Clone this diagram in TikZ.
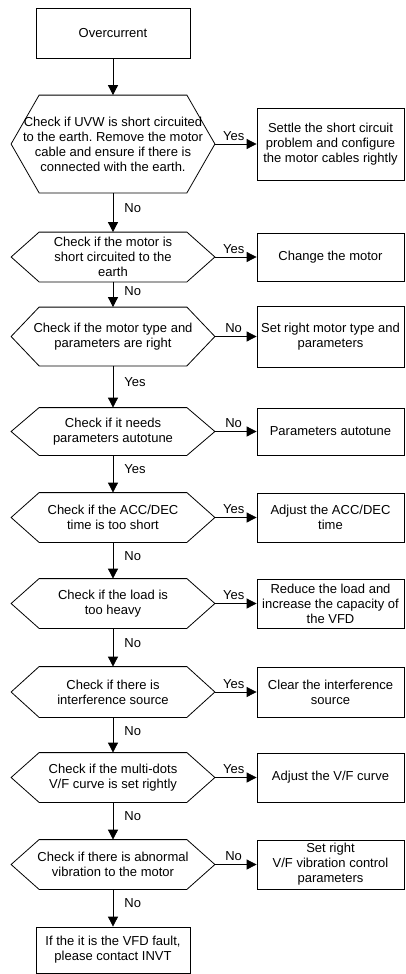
\documentclass[tikz,border=0pt]{standalone}
\usepackage{fontspec}
\setmainfont{Liberation Sans}
\usetikzlibrary{arrows.meta}
\frenchspacing

\begin{document}
\begin{tikzpicture}[x=1pt, y=-1pt, line width=0.8pt,
    font=\fontsize{13}{15}\selectfont,
    box/.style={draw, minimum width=154, inner sep=0pt, align=center},
    act/.style={draw, minimum width=147, inner sep=0pt, align=center},
    decision/.style={minimum width=203, inner sep=0pt, align=center},
    arrow/.style={-{Triangle[length=10pt,width=10pt]}},
    lbl/.style={inner sep=3pt}]
    \useasboundingbox (0,0) rectangle (406,974);

    % main column
    \node[box, minimum height=50] (start) at (113,33) {Overcurrent};
    \node[decision, minimum height=97] (q1) at (113,144) {Check if UVW is short circuited\\to the earth. Remove the motor\\cable and ensure if there is\\connected with the earth.};
    \node[decision, minimum height=49] (q2) at (113,257) {Check if the motor is\\short circuited to the\\earth};
    \node[decision, minimum height=58] (q3) at (113,336.5) {Check if the motor type and\\parameters are right};
    \node[decision, minimum height=47] (q4) at (113,431.5) {Check if it needs\\parameters autotune};
    \node[decision, minimum height=49] (q5) at (113,517.5) {Check if the ACC/DEC\\time is too short};
    \node[decision, minimum height=49] (q6) at (113,603.5) {Check if the load is\\too heavy};
    \node[decision, minimum height=50] (q7) at (113,692) {Check if there is\\interference source};
    \node[decision, minimum height=49] (q8) at (113,777.5) {Check if the multi-dots\\V/F curve is set rightly};
    \node[decision, minimum height=49] (q9) at (113,864.5) {Check if there is abnormal\\vibration to the motor};
    \node[box, minimum height=46] (fault) at (113,950) {If the it is the VFD fault,\\please contact INVT};

    % actions
    \node[act, minimum height=72] (a1) at (330.5,144) {Settle the short circuit\\problem and configure\\the motor cables rightly};
    \node[act, minimum height=48] (a2) at (330.5,257) {Change the motor};
    \node[act, minimum height=61] (a3) at (330.5,336.5) {Set right motor type and\\parameters};
    \node[act, minimum height=47] (a4) at (330.5,431.5) {Parameters autotune};
    \node[act, minimum height=49] (a5) at (330.5,517.5) {Adjust the ACC/DEC\\time};
    \node[act, minimum height=49] (a6) at (330.5,603.5) {Reduce the load and\\increase the capacity of\\the VFD};
    \node[act, minimum height=50] (a7) at (330.5,692) {Clear the interference\\source};
    \node[act, minimum height=49] (a8) at (330.5,777.5) {Adjust the V/F curve};
    \node[act, minimum height=49] (a9) at (330.5,864.5) {Set right\\V/F vibration control\\parameters};

    % hexagon outlines
    \foreach \i in {1,...,9}
        \draw (q\i.west) -- ([xshift=28]q\i.north west) -- ([xshift=-28]q\i.north east)
            -- (q\i.east) -- ([xshift=-28]q\i.south east) -- ([xshift=28]q\i.south west) -- cycle;

    \draw[arrow] (start) -- (q1);

    % branches: index / next / right label / down label
    \foreach \i/\nxt/\rl/\dl in {1/q2/Yes/No, 2/q3/Yes/No, 3/q4/No/Yes, 4/q5/No/Yes,
            5/q6/Yes/No, 6/q7/Yes/No, 7/q8/Yes/No, 8/q9/Yes/No, 9/fault/No/No} {
        \draw[arrow] (q\i.east) -- node[lbl, above, pos=0.45] {\rl} (a\i.west);
        \draw[arrow] (q\i.south) -- node[lbl, right, pos=0.38, xshift=8] {\dl} (\nxt.north);
    }
\end{tikzpicture}
\end{document}
